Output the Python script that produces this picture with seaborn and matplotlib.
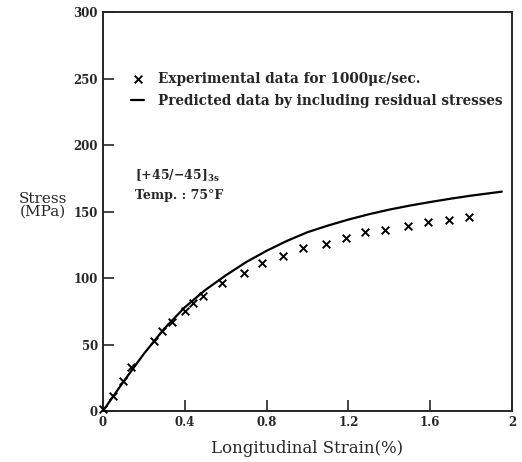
import numpy as np
import pandas as pd
import matplotlib
matplotlib.use('Agg')
import matplotlib.pyplot as plt
import seaborn as sns

# experimental points (1000 microstrain/sec)
exp_strain = [0.0, 0.05, 0.10, 0.14, 0.25, 0.29, 0.34, 0.40, 0.44, 0.49, 0.58, 0.69,
              0.78, 0.88, 0.98, 1.09, 1.19, 1.28, 1.38, 1.49, 1.59, 1.69, 1.79]
exp_stress = [2, 11.5, 23, 33, 53, 60, 67, 75, 81, 86.5, 96, 104,
              111, 116.5, 122.5, 126, 130, 134.5, 136, 139, 142, 144, 146]

# predicted curve (with residual stresses)
pred_strain = [0, 0.1, 0.2, 0.3, 0.4, 0.5, 0.6, 0.7, 0.8, 0.9, 1.0, 1.1, 1.2,
               1.3, 1.4, 1.5, 1.6, 1.7, 1.8, 1.9, 1.95]
pred_stress = [0, 22, 43, 62, 78, 91, 102, 112, 120.5, 128, 134.5, 139.5, 144,
               148, 151.5, 154.5, 157.2, 159.7, 162, 164, 165]

x_ticks = [0, 0.4, 0.8, 1.2, 1.6, 2]
x_tick_labels = ['0', '0.4', '0.8', '1.2', '1.6', '2']
y_ticks = [0, 50, 100, 150, 200, 250, 300]

exp_df = pd.DataFrame({'strain': exp_strain, 'stress': exp_stress})
pred_df = pd.DataFrame({'strain': pred_strain, 'stress': pred_stress})

sns.set_style('ticks')
plt.rcParams['font.family'] = ['DejaVu Serif']
plt.rcParams['mathtext.fontset'] = 'dejavuserif'

fig = plt.figure(figsize=(5.22, 4.62), dpi=100)
ax = fig.add_axes([0.197, 0.110, 0.784, 0.864])

sns.lineplot(x='strain', y='stress', data=pred_df, ax=ax, color='black', linewidth=1.6,
             label='Predicted data by including residual stresses')
sns.scatterplot(x='strain', y='stress', data=exp_df, ax=ax, marker='x', color='black',
                s=30, linewidth=1.4, label='Experimental data for 1000με/sec.',
                clip_on=False, zorder=3)

ax.set_xlim(0, 2)
ax.set_ylim(0, 300)
ax.set_xticks(x_ticks)
ax.set_xticklabels(x_tick_labels)
ax.set_yticks(y_ticks)
ax.tick_params(direction='in', length=8, width=1.2, labelsize=8.5)
for lab in ax.get_xticklabels() + ax.get_yticklabels():
    lab.set_fontweight('bold')
for s in ax.spines.values():
    s.set_linewidth(1.4)

ax.set_xlabel('Longitudinal Strain(%)', fontsize=12, labelpad=8)
ax.set_ylabel('')
fig.text(0.082, 0.555, 'Stress\n(MPa)', fontsize=11, ha='center', va='center', linespacing=0.85)

handles, labels = ax.get_legend_handles_labels()
ax.legend(handles[::-1], labels[::-1], loc='upper left', bbox_to_anchor=(0.055, 0.864),
          frameon=False, prop={'size': 9.8, 'weight': 'bold'}, handlelength=1.0,
          handletextpad=1.0, labelspacing=0.6, borderaxespad=0)

ax.text(0.155, 177, '[+45/−45]$_{\\mathbf{3s}}$', fontsize=9, va='center', fontweight='bold')
ax.text(0.155, 162, 'Temp. : 75°F', fontsize=9, va='center', fontweight='bold')

plt.savefig('out.png', dpi=100)
